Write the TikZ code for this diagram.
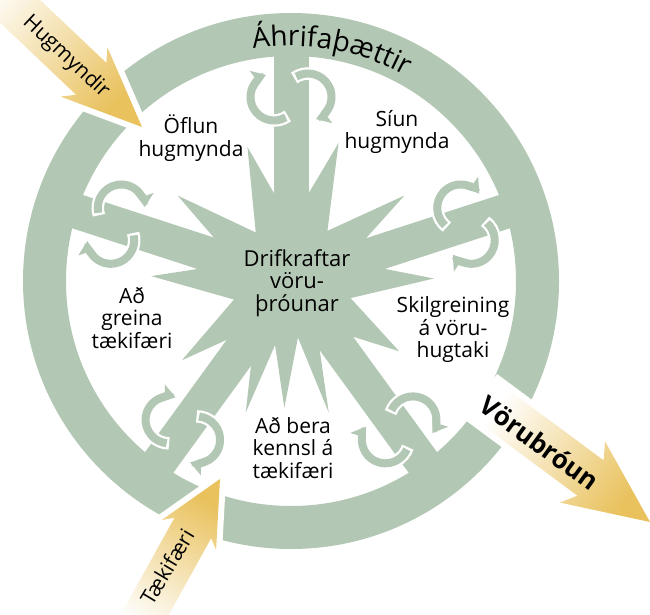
\documentclass[tikz,border=0pt]{standalone}
\usepackage{fontspec}
\setmainfont{Open Sans}
\usetikzlibrary{arrows.meta,decorations.text,calc}
\definecolor{sage}{RGB}{179,200,180}
\definecolor{gold}{RGB}{233,194,94}
\begin{document}
\begin{tikzpicture}[x=1pt,y=1pt,
  lbl/.style={font=\fontsize{21}{22.5}\selectfont, align=center, inner sep=0pt, text=black},
  awhite/.style={white, line width=12.5pt, -{Stealth[length=18pt,width=26pt,inset=4pt,line width=0pt]}},
  agreen/.style={sage, line width=8pt, -{Stealth[length=14pt,width=19pt,inset=3pt,line width=0pt]}},
  spoke/.style={sage, line width=35pt}]
\useasboundingbox (0,0) rectangle (650,614);
\coordinate (C) at (291,333);
% ring
\fill[sage, even odd rule] (C) circle[radius=268] (C) circle[radius=225];
% spokes
\foreach \t in {18,90,162,234,306} {
  \draw[spoke] (C) -- ($(C)+(\t:247)$);
}
% star
\fill[sage, shift={(C)}] (1:143) -- (20:58) -- (37:142) -- (54:62) -- (71:146) -- (90:58)
  -- (108:141) -- (126:60) -- (143:142) -- (162:58) -- (178:140) -- (198:60)
  -- (216:135) -- (232:58) -- (251:139) -- (256:66) -- (267:127) -- (277:57)
  -- (286:137) -- (294:68) -- (306:58) -- (327:129) -- (344:62) -- cycle;
% circular arrows
\foreach \t in {18,90,162,234,306} {
  \pgfmathsetmacro\sA{\t-150}
  \pgfmathsetmacro\eA{\t-340}
  \pgfmathsetmacro\sB{\t+30}
  \pgfmathsetmacro\eB{\t-160}
  \pgfmathsetmacro\sAw{\t-144}
  \pgfmathsetmacro\sBw{\t+36}
  \coordinate (P) at ($(C)+(\t:184)$);
  \coordinate (PA) at ($(P)+(\t+90:17)$);
  \coordinate (PB) at ($(P)+(\t-90:17)$);
  \draw[awhite] ($(PA)+(\sAw:23.5)$) arc[start angle=\sAw, end angle=\eA, radius=23.5];
  \draw[agreen] ($(PA)+(\sA:23.5)$) arc[start angle=\sA, end angle=\eA, radius=23.5];
  \draw[awhite] ($(PB)+(\sBw:23.5)$) arc[start angle=\sBw, end angle=\eB, radius=23.5];
  \draw[agreen] ($(PB)+(\sB:23.5)$) arc[start angle=\sB, end angle=\eB, radius=23.5];
}
% gold arrows
\foreach \tx/\ty/\al/\h/\s/\W/\w/\L in {142/487/-43.5/70/10/34/22/220, 220/135/61/56/8/31/21/175, 650/92/-36.5/74/10/38/22/205} {
  \pgfmathsetmacro\sa{\al-90}
  \pgfmathsetmacro\hs{\h+\s}
  \coordinate (T) at (\tx,\ty);
  \path[preaction={draw=white, line width=12pt, line join=miter},
        top color=gold, bottom color=white, shading angle=\sa]
    (T) -- ($(T)+(\al:-\hs)+(\al+90:\W)$) -- ($(T)+(\al:-\h)+(\al+90:\w)$)
    -- ($(T)+(\al:-\L)+(\al+90:\w)$) -- ($(T)+(\al:-\L)+(\al-90:\w)$)
    -- ($(T)+(\al:-\h)+(\al-90:\w)$) -- ($(T)+(\al:-\hs)+(\al-90:\W)$) -- cycle;
}
% title along ring
\path[decorate, decoration={text along path, text align=center,
   text={|\fontsize{28}{28}\selectfont|Áhrifaþættir}}]
  ($(C)+(125:235)$) arc[start angle=125, end angle=35, radius=235];
% labels
\node[lbl] (oflun) at (191,476) {Öflun\\hugmynda};
\node[lbl] (siun) at (397,482) {Síun\\hugmynda};
\node[lbl, font=\fontsize{22}{22.5}\selectfont] (drif) at (297,331) {Drifkraftar\\vöru-\\þróunar};
\node[lbl] (skil) at (453,284) {Skilgreining\\á vöru-\\hugtaki};
\node[lbl] (greina) at (132,296) {Að\\greina\\tækifæri};
\node[lbl] (bera) at (293,166) {Að bera\\kennsl á\\tækifæri};
\node[lbl, rotate=-43] (hug) at (66,557) {Hugmyndir};
\node[lbl, rotate=59] (taek) at (167,47) {Tækifæri};
\node[lbl, font=\fontsize{26}{28}\selectfont\bfseries, rotate=-36] (voru) at (540,171) {Vörubróun};
\end{tikzpicture}
\end{document}
